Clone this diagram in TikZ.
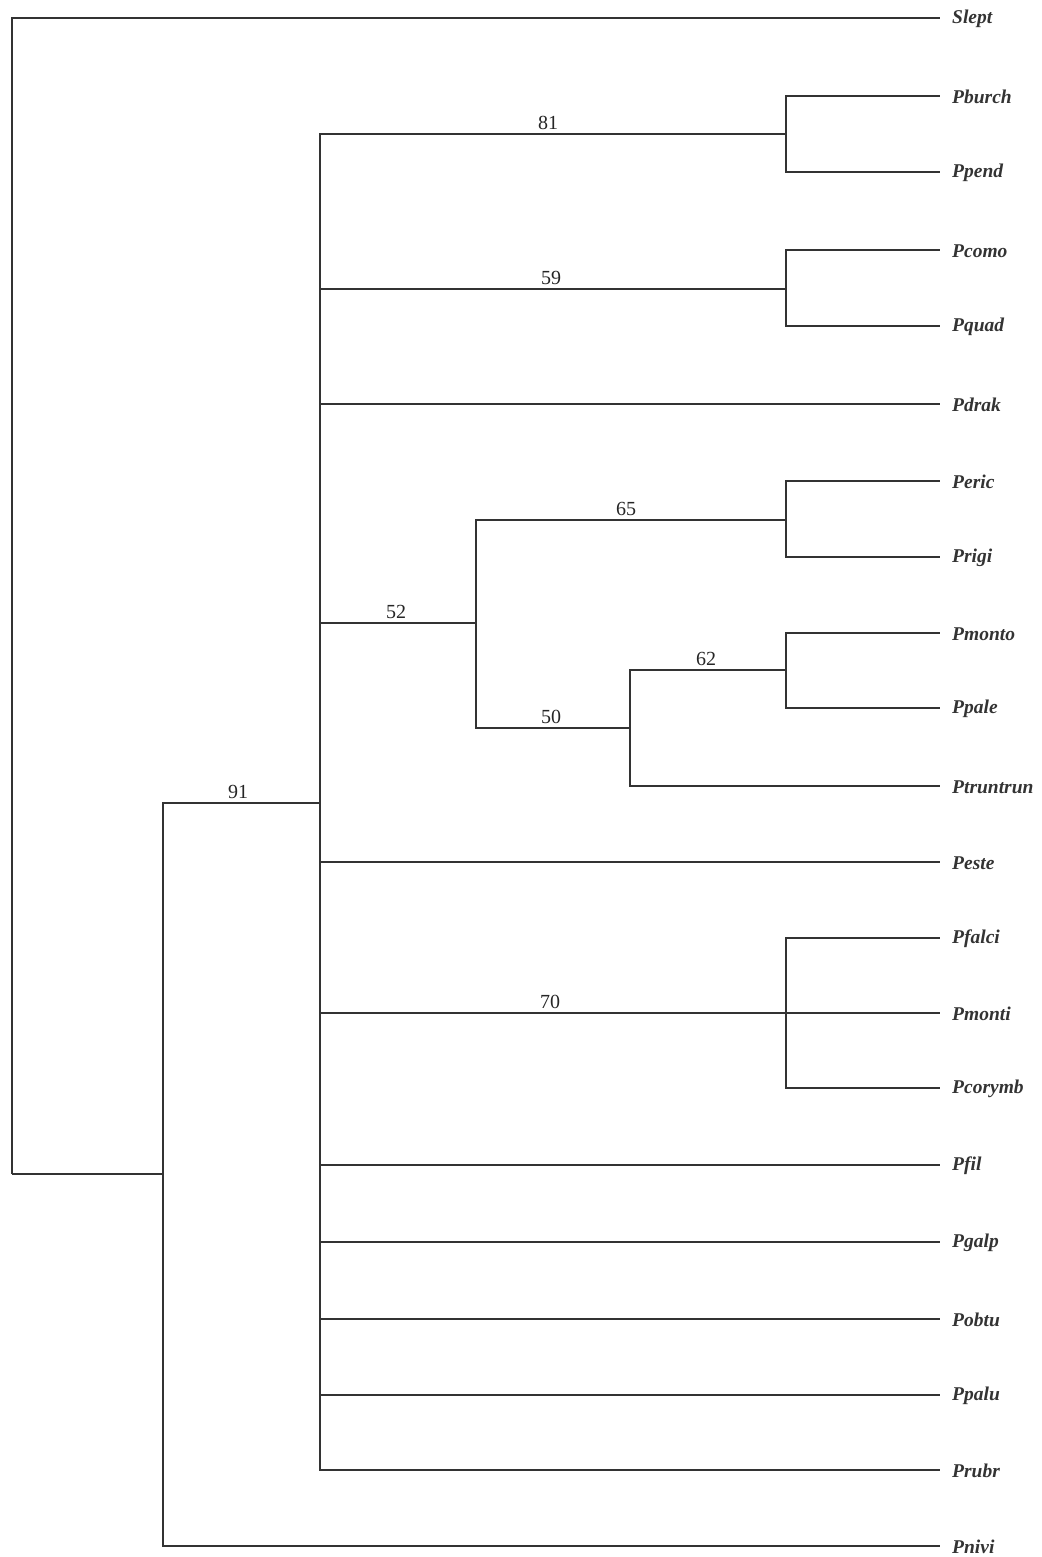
\documentclass[tikz,border=0pt]{standalone}
\usepackage{fontspec}
\setmainfont{Liberation Serif}
\begin{document}
\begin{tikzpicture}[x=1pt,y=-1pt,
  br/.style={line width=1.3pt,draw=black!80},
  taxon/.style={anchor=west,inner sep=0pt,font=\fontsize{19.5}{19.5}\selectfont\itshape\bfseries,text=black!80},
  sup/.style={anchor=base,inner sep=0pt,font=\fontsize{20}{20}\selectfont,text=black!85}]
\useasboundingbox (0,0) rectangle (1041,1557);
% tips and labels
\foreach \n/\y in {Slept/18,Pburch/96,Ppend/172,Pcomo/250,Pquad/326,Pdrak/404,Peric/481,Prigi/557,Pmonto/633,Ppale/708,Ptruntrun/786,Peste/862,Pfalci/938,Pmonti/1013,Pcorymb/1088,Pfil/1165,Pgalp/1242,Pobtu/1319,Ppalu/1395,Prubr/1470,Pnivi/1546}{
  \coordinate (t\n) at (940,\y);
  \node[taxon] (\n) at (952,\y+1) {\n};
}
% internal nodes
\coordinate (root) at (12,1174);
\coordinate (n1) at (163,1174);
\coordinate (n2) at (320,803);
\coordinate (c81) at (786,134);
\coordinate (c59) at (786,289);
\coordinate (c52) at (476,623);
\coordinate (c65) at (786,520);
\coordinate (c50) at (630,728);
\coordinate (c62) at (786,670);
\coordinate (c70) at (786,1013);
% branches
\draw[br] (root) |- (tSlept);
\draw[br] (root) -- (n1);
\draw[br] (n1) |- (n2);
\draw[br] (n1) |- (tPnivi);
\draw[br] (n2) |- (c81);
\draw[br] (n2) |- (c59);
\draw[br] (n2) |- (tPdrak);
\draw[br] (n2) |- (c52);
\draw[br] (n2) |- (tPeste);
\draw[br] (n2) |- (c70);
\draw[br] (n2) |- (tPfil);
\draw[br] (n2) |- (tPgalp);
\draw[br] (n2) |- (tPobtu);
\draw[br] (n2) |- (tPpalu);
\draw[br] (n2) |- (tPrubr);
\draw[br] (c81) |- (tPburch);
\draw[br] (c81) |- (tPpend);
\draw[br] (c59) |- (tPcomo);
\draw[br] (c59) |- (tPquad);
\draw[br] (c52) |- (c65);
\draw[br] (c52) |- (c50);
\draw[br] (c65) |- (tPeric);
\draw[br] (c65) |- (tPrigi);
\draw[br] (c50) |- (c62);
\draw[br] (c50) |- (tPtruntrun);
\draw[br] (c62) |- (tPmonto);
\draw[br] (c62) |- (tPpale);
\draw[br] (c70) |- (tPfalci);
\draw[br] (c70) -- (tPmonti);
\draw[br] (c70) |- (tPcorymb);
% support values
\node[sup] (s81) at (548,130) {81};
\node[sup] (s59) at (551,284) {59};
\node[sup] (s52) at (396,618) {52};
\node[sup] (s65) at (626,515) {65};
\node[sup] (s62) at (706,665) {62};
\node[sup] (s50) at (551,723) {50};
\node[sup] (s70) at (550,1008) {70};
\node[sup] (s91) at (238,798) {91};
\end{tikzpicture}
\end{document}
